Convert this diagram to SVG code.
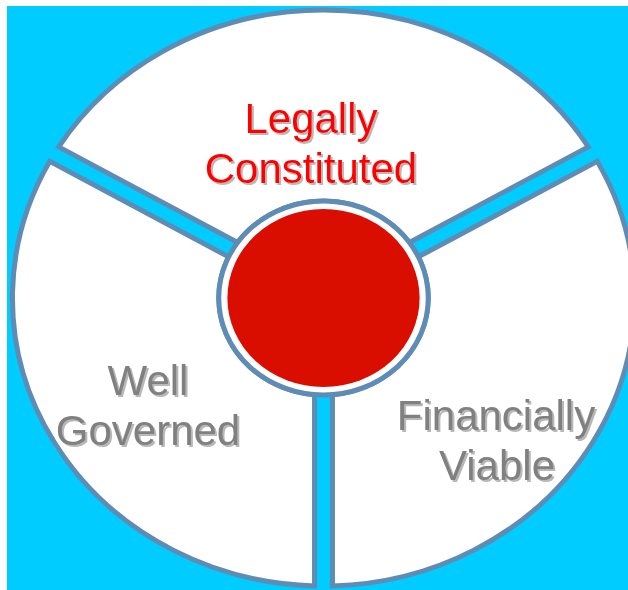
<svg xmlns="http://www.w3.org/2000/svg" width="628" height="590" viewBox="0 0 628 590">
<defs>
<style>
.piece{fill:#FFFFFF;stroke:#5F8CB5;stroke-width:5;stroke-linejoin:miter;vector-effect:non-scaling-stroke}
.ring{fill:#FFFFFF;stroke:#5F8CB5;stroke-width:5;vector-effect:non-scaling-stroke}
.lbl{font-family:"Liberation Sans",Arial,sans-serif;font-size:42px;text-anchor:middle;filter:url(#sh)}
.red{fill:#FF0000}
.gray{fill:#808080}
</style>
<filter id="sh" x="-10%" y="-20%" width="130%" height="150%">
<feDropShadow dx="2" dy="2" stdDeviation="0.7" flood-color="#9A9A9A" flood-opacity="0.7"/>
</filter>
</defs>
<rect x="0" y="0" width="628" height="590" fill="#FFFFFF"/>
<rect x="7" y="6" width="621" height="584" fill="#00CCFF"/>
<g id="connectors"/>
<g transform="translate(323.5,298) scale(1.08,1)">
<g id="legally-constituted-shape">
<path class="piece" d="M -245.16,-151.13 A 288 288 0 0 1 245.16,-151.13 L 79.54,-55.51 A 97 97 0 0 0 -79.54,-55.51 Z"/>
</g>
<g id="financially-viable-shape">
<path class="piece" d="M 253.46,-136.75 A 288 288 0 0 1 8.3,287.88 L 8.3,96.64 A 97 97 0 0 0 87.84,-41.13 Z"/>
</g>
<g id="well-governed-shape">
<path class="piece" d="M -8.3,287.88 A 288 288 0 0 1 -253.46,-136.75 L -87.84,-41.13 A 97 97 0 0 0 -8.3,96.64 Z"/>
</g>
<g id="center">
<circle class="ring" cx="0" cy="0" r="97"/>
<circle cx="0" cy="0" r="89" fill="#D90E00"/>
</g>
</g>
<g id="legally-constituted">
<text class="lbl red" x="311" y="133">Legally</text>
<text class="lbl red" x="311" y="183">Constituted</text>
</g>
<g id="well-governed">
<text class="lbl gray" x="148" y="395">Well</text>
<text class="lbl gray" x="148" y="445">Governed</text>
</g>
<g id="financially-viable">
<text class="lbl gray" x="496" y="430">Financially</text>
<text class="lbl gray" x="497" y="480">Viable</text>
</g>
</svg>
